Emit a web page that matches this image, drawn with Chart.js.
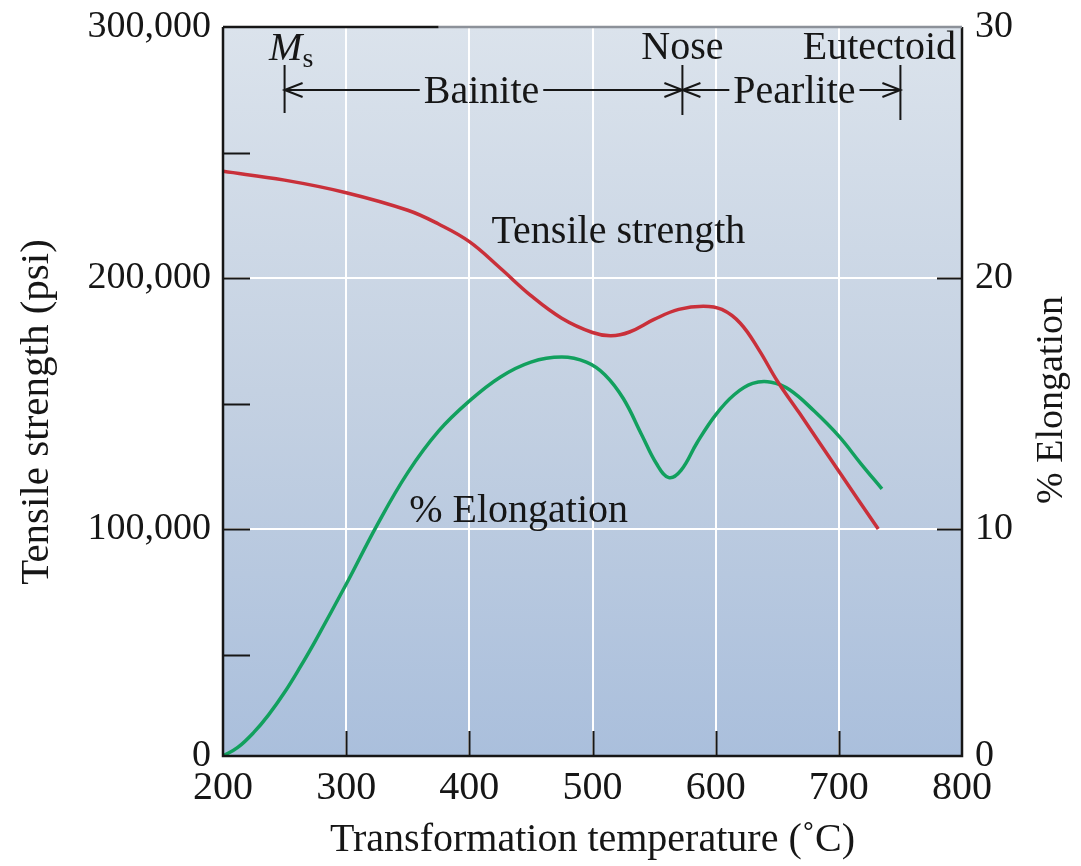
<!DOCTYPE html>
<html>
<head>
<meta charset="utf-8">
<script src="https://cdn.jsdelivr.net/npm/chart.js@4"></script>
<style>
  html, body { margin: 0; padding: 0; background: #fff; }
  #chart { display: block; }
</style>
</head>
<body>
<canvas id="chart" width="1081" height="866"></canvas>
<script>
// tensile strength curve (psi) vs transformation temperature (C)
const tensileTemps = [200, 250, 300, 350, 375, 400, 425, 450, 475, 500, 515, 530, 550, 570, 590, 605, 620, 635, 650, 668, 700, 732];
const tensileValues = [242500, 239000, 234000, 227000, 221500, 214500, 204000, 193000, 184000, 178300, 177000, 178500, 183500, 187500, 188800, 187500, 182000, 171500, 159000, 146200, 123000, 100000];

// % elongation curve vs transformation temperature (C)
const elongTemps = [200, 212, 225, 237, 250, 262, 275, 300, 325, 350, 375, 400, 425, 450, 475, 495, 510, 525, 540, 552, 562, 572, 585, 600, 615, 630, 645, 660, 680, 700, 718, 735];
const elongValues = [0.96, 1.3, 1.9, 2.6, 3.5, 4.45, 5.55, 7.8, 10.15, 12.25, 13.9, 15.1, 16.05, 16.65, 16.85, 16.65, 16.15, 15.2, 13.75, 12.6, 12.05, 12.35, 13.45, 14.55, 15.35, 15.8, 15.85, 15.55, 14.7, 13.7, 12.6, 11.6];

// axis ticks (the printed "0" sits on the baseline, a little above true zero)
const tempTicks = [200, 300, 400, 500, 600, 700, 800];
const tensileTicks = [9600, 50000, 100000, 150000, 200000, 250000, 300000];
const tensileLabels = ['0', '', '100,000', '', '200,000', '', '300,000'];
const elongTicks = [0.96, 10, 20, 30];
const elongLabels = ['0', '10', '20', '30'];

// phase markers along the top
const msTemp = 250, noseTemp = 573, eutectoidTemp = 750;

const SERIF = '"Liberation Serif", "DejaVu Serif", serif';
const INK = '#161616';

const backdrop = {
  id: 'backdrop',
  beforeDatasetsDraw(chart) {
    const { ctx, chartArea: a } = chart;
    const g = ctx.createLinearGradient(0, a.top, 0, a.bottom);
    g.addColorStop(0, '#dbe3ec');
    g.addColorStop(0.5, '#c4d1e2');
    g.addColorStop(1, '#aabfdc');
    ctx.save();
    ctx.globalCompositeOperation = 'destination-over';
    ctx.fillStyle = g;
    ctx.fillRect(a.left, a.top, a.right - a.left, a.bottom - a.top);
    ctx.restore();
  }
};

function arrowHead(ctx, x, y, dir) {
  ctx.beginPath();
  ctx.moveTo(x - dir * 18, y - 7);
  ctx.lineTo(x, y);
  ctx.lineTo(x - dir * 18, y + 7);
  ctx.stroke();
}

const frame = {
  id: 'frame',
  afterDraw(chart) {
    const { ctx, chartArea: a, scales } = chart;
    const sx = scales.x, sy = scales.y, sy2 = scales.y2;
    ctx.save();
    ctx.strokeStyle = INK;
    ctx.lineWidth = 2;
    // inner ticks
    tensileTicks.slice(1, -1).forEach(v => {
      const y = Math.round(sy.getPixelForValue(v)) + 0.5;
      ctx.beginPath(); ctx.moveTo(a.left, y); ctx.lineTo(a.left + 27, y); ctx.stroke();
    });
    elongTicks.slice(1, -1).forEach(v => {
      const y = Math.round(sy2.getPixelForValue(v)) + 0.5;
      ctx.beginPath(); ctx.moveTo(a.right - 25, y); ctx.lineTo(a.right, y); ctx.stroke();
    });
    tempTicks.slice(1, -1).forEach(v => {
      const x = Math.round(sx.getPixelForValue(v)) + 0.5;
      ctx.beginPath(); ctx.moveTo(x, a.bottom); ctx.lineTo(x, a.bottom - 25); ctx.stroke();
    });
    // frame
    ctx.lineWidth = 2.5;
    ctx.beginPath();
    ctx.moveTo(a.left, a.top); ctx.lineTo(a.left, a.bottom);
    ctx.lineTo(a.right, a.bottom); ctx.lineTo(a.right, a.top);
    ctx.stroke();
    ctx.strokeStyle = '#8c9199';
    ctx.beginPath(); ctx.moveTo(sx.getPixelForValue(375), a.top); ctx.lineTo(a.right, a.top); ctx.stroke();
    ctx.strokeStyle = INK;
    ctx.beginPath(); ctx.moveTo(a.left, a.top); ctx.lineTo(sx.getPixelForValue(375), a.top); ctx.stroke();

    // phase annotations
    const xm = sx.getPixelForValue(msTemp), xn = sx.getPixelForValue(noseTemp), xe = sx.getPixelForValue(eutectoidTemp);
    const yl = a.top + 63;
    ctx.lineWidth = 2;
    ctx.fillStyle = INK;
    ctx.textBaseline = 'middle';
    ctx.font = `40px ${SERIF}`;
    ctx.textAlign = 'center';
    const bw = ctx.measureText('Bainite').width;
    const bx = (xm + xn) / 2 - 2;
    ctx.fillText('Bainite', bx, yl + 2);
    const pw = ctx.measureText('Pearlite').width;
    const px = (xn + xe) / 2 + 3;
    ctx.fillText('Pearlite', px, yl + 2);
    ctx.fillText('Nose', xn, a.top + 21);
    ctx.textAlign = 'right';
    ctx.fillText('Eutectoid', a.right - 6, a.top + 21);
    ctx.font = `italic 40px ${SERIF}`;
    ctx.textAlign = 'center';
    ctx.fillText('M', xm + 1, a.top + 22);
    ctx.font = `28px ${SERIF}`;
    ctx.textAlign = 'left';
    ctx.fillText('s', xm + 18, a.top + 33);

    ctx.beginPath();
    ctx.moveTo(xm, yl); ctx.lineTo(bx - bw / 2 - 4, yl);
    ctx.moveTo(bx + bw / 2 + 4, yl); ctx.lineTo(xn, yl);
    ctx.moveTo(xn, yl); ctx.lineTo(px - pw / 2 - 4, yl);
    ctx.moveTo(px + pw / 2 + 4, yl); ctx.lineTo(xe, yl);
    ctx.moveTo(xm, yl - 25); ctx.lineTo(xm, yl + 23);
    ctx.moveTo(xn, yl - 25); ctx.lineTo(xn, yl + 25);
    ctx.moveTo(xe, yl - 25); ctx.lineTo(xe, yl + 30);
    ctx.stroke();
    arrowHead(ctx, xm, yl, -1);
    arrowHead(ctx, xn, yl, 1);
    arrowHead(ctx, xn, yl, -1);
    arrowHead(ctx, xe, yl, 1);

    // curve labels
    ctx.font = `40px ${SERIF}`;
    ctx.textAlign = 'center';
    ctx.fillText('Tensile strength', sx.getPixelForValue(521), sy.getPixelForValue(218300));
    ctx.fillText('% Elongation', sx.getPixelForValue(440), sy2.getPixelForValue(10.7));

    // axis titles, both reading bottom to top
    ctx.save();
    ctx.translate(37, 412);
    ctx.rotate(-Math.PI / 2);
    ctx.font = `41px ${SERIF}`;
    ctx.fillText('Tensile strength (psi)', 0, 0);
    ctx.restore();
    ctx.save();
    ctx.translate(1052, 400);
    ctx.rotate(-Math.PI / 2);
    ctx.font = `38px ${SERIF}`;
    ctx.fillText('% Elongation', 0, 0);
    ctx.restore();
    ctx.restore();
  }
};

// keep the frame where the figure has it: no automatic label padding
const fixVertical = w => s => { s.width = w; s.paddingTop = 0; s.paddingBottom = 0; };

new Chart(document.getElementById('chart'), {
  type: 'line',
  data: {
    datasets: [
      {
        label: 'Tensile strength',
        data: tensileTemps.map((t, i) => ({ x: t, y: tensileValues[i] })),
        yAxisID: 'y',
        borderColor: '#c9303a',
        borderWidth: 3.5,
        pointRadius: 0,
        tension: 0.4,
        fill: false
      },
      {
        label: '% Elongation',
        data: elongTemps.map((t, i) => ({ x: t, y: elongValues[i] })),
        yAxisID: 'y2',
        borderColor: '#12a05e',
        borderWidth: 3.5,
        pointRadius: 0,
        tension: 0.4,
        fill: false
      }
    ]
  },
  options: {
    responsive: false,
    animation: false,
    layout: { padding: { top: 27 } },
    plugins: { legend: { display: false }, tooltip: { enabled: false } },
    scales: {
      x: {
        type: 'linear',
        min: 200, max: 800,
        afterFit: s => { s.height = 110; s.paddingLeft = 0; s.paddingRight = 0; },
        afterBuildTicks: s => { s.ticks = tempTicks.map(v => ({ value: v })); },
        ticks: { color: INK, font: { family: SERIF, size: 40 }, padding: 8 },
        grid: {
          drawTicks: false,
          lineWidth: 2,
          color: c => (c.tick && c.tick.value > 200 && c.tick.value < 800) ? '#ffffff' : 'rgba(0,0,0,0)'
        },
        border: { display: false },
        title: {
          display: true,
          text: 'Transformation temperature (˚C)',
          color: INK,
          font: { family: SERIF, size: 40 },
          padding: { top: 0, bottom: 2 }
        }
      },
      y: {
        position: 'left',
        min: tensileTicks[0], max: 300000,
        afterFit: fixVertical(223),
        afterBuildTicks: s => { s.ticks = tensileTicks.map(v => ({ value: v })); },
        ticks: {
          color: INK,
          font: { family: SERIF, size: 38 },
          padding: 12,
          callback: (v) => tensileLabels[tensileTicks.indexOf(v)]
        },
        grid: {
          drawTicks: false,
          lineWidth: 2,
          color: c => (c.tick && (c.tick.value === 100000 || c.tick.value === 200000)) ? '#ffffff' : 'rgba(0,0,0,0)'
        },
        border: { display: false }
      },
      y2: {
        position: 'right',
        min: elongTicks[0], max: 30,
        afterFit: fixVertical(119),
        afterBuildTicks: s => { s.ticks = elongTicks.map(v => ({ value: v })); },
        ticks: {
          color: INK,
          font: { family: SERIF, size: 38 },
          padding: 13,
          callback: (v) => elongLabels[elongTicks.indexOf(v)]
        },
        grid: { drawOnChartArea: false, drawTicks: false },
        border: { display: false }
      }
    }
  },
  plugins: [backdrop, frame]
});
</script>
</body>
</html>
